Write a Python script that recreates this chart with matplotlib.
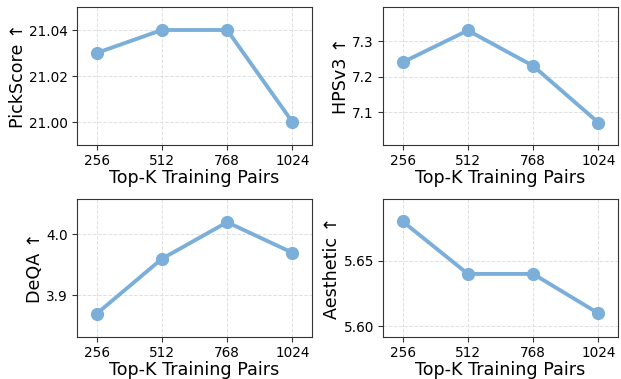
import matplotlib.pyplot as plt

# top-k ablation results
topk = ['256', '512', '768', '1024']
pickscore = [21.03, 21.04, 21.04, 21.00]
hpsv3 = [7.24, 7.33, 7.23, 7.07]
deqa = [3.87, 3.96, 4.02, 3.97]
aesthetic = [5.68, 5.64, 5.64, 5.61]

color = '#7bafd9'

fig = plt.figure(figsize=(6.21, 3.79), dpi=100)
W, H = 621, 379

def add_panel(left, top, vals, ylabel, ylim, yticks, fmt):
    ax = fig.add_axes([left / W, 1 - (top + 138) / H, 235 / W, 138 / H])
    x = range(len(topk))
    ax.plot(x, vals, color=color, linewidth=2.8, marker='o', markersize=8.5)
    ax.set_xticks(list(x))
    ax.set_xticklabels(topk)
    ax.set_xlim(-0.3, 3.3)
    ax.set_ylim(*ylim)
    ax.set_yticks(yticks)
    ax.set_yticklabels([fmt.format(v) for v in yticks])
    ax.tick_params(labelsize=9.8, color='#333333', pad=3)
    ax.grid(True, linestyle='--', color='#e0e0e0', linewidth=0.7)
    ax.set_axisbelow(True)
    for s in ax.spines.values():
        s.set_color('#333333')
    ax.set_xlabel('Top-K Training Pairs', fontsize=12.6, labelpad=1)
    ax.set_ylabel(ylabel, fontsize=12.6, labelpad=1.5)
    return ax

add_panel(77, 7, pickscore, 'PickScore ↑', (20.99, 21.05), [21.00, 21.02, 21.04], '{:.2f}')
add_panel(383, 7, hpsv3, 'HPSv3 ↑', (7.007, 7.396), [7.1, 7.2, 7.3], '{:.1f}')
add_panel(77, 199, deqa, 'DeQA ↑', (3.832, 4.058), [3.9, 4.0], '{:.1f}')
add_panel(383, 199, aesthetic, 'Aesthetic ↑', (5.592, 5.697), [5.60, 5.65], '{:.2f}')

fig.savefig('out.png', dpi=100)
